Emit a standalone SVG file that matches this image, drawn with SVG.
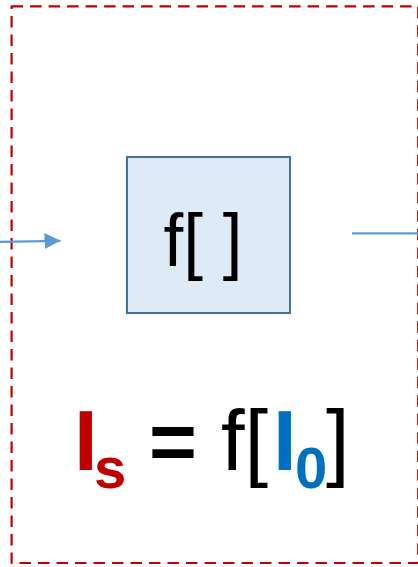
<svg xmlns="http://www.w3.org/2000/svg" width="418" height="567" viewBox="0 0 418 567">
<style>
.frame{fill:none;stroke:#C00000;stroke-width:2.2;stroke-dasharray:11.5 7;stroke-linejoin:round}
.conn{stroke:#5B9BD5;stroke-width:2.2;fill:none}
.box{fill:#DEEBF7;stroke:#41719C;stroke-width:2}
.t{font-family:"Liberation Sans",Arial,sans-serif}
.r{fill:#C00000;font-weight:bold}
.b{fill:#0070C0;font-weight:bold}
.sub{font-size:58px}
</style>
<defs>
<marker id="ah" markerUnits="userSpaceOnUse" markerWidth="17" markerHeight="16" refX="16" refY="8" orient="auto">
<path d="M0,0 L16,8 L0,16 Z" fill="#5B9BD5"/>
</marker>
</defs>
<g id="frame"><rect class="frame" x="11.6" y="6.3" width="406.6" height="556.7"/></g>
<g id="connectors">
<path class="conn" d="M0,241.8 L60.5,240.8" marker-end="url(#ah)"/>
<path class="conn" d="M352,233.3 L420,233.3"/>
</g>
<g id="node-f">
<rect class="box" x="127" y="157" width="163" height="156"/>
<text class="t" x="203" y="266" font-size="74" text-anchor="middle" textLength="79" lengthAdjust="spacingAndGlyphs">f[ ]</text>
</g>
<g id="formula">
<text class="t" y="470" font-size="85" fill="#000"><tspan class="r" x="74">I</tspan><tspan class="r sub" x="94" y="488">s</tspan><tspan x="149" y="470" font-size="82" font-weight="bold">=</tspan><tspan x="221" y="470">f[</tspan><tspan class="b" x="273">I</tspan><tspan class="b sub" x="295" y="488">0</tspan><tspan x="326" y="470">]</tspan></text>
</g>
</svg>
